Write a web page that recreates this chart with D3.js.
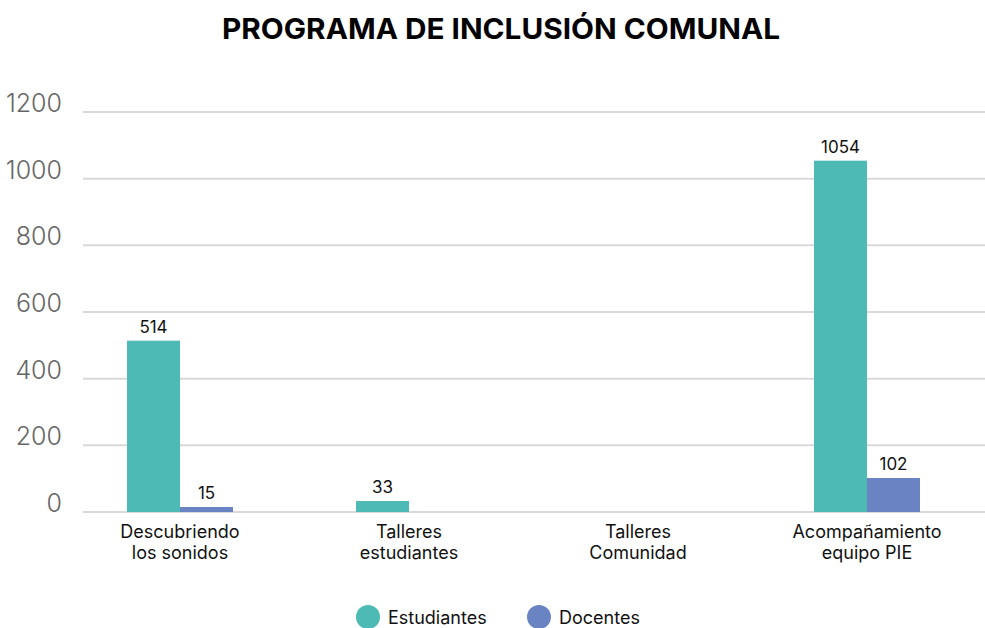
<!DOCTYPE html>
<html><head><meta charset="utf-8">
<script src="https://cdn.jsdelivr.net/npm/d3@7"></script>
<style>
body{margin:0;background:#fff;}
text{font-family:Inter,"Open Sans",sans-serif;}
</style></head>
<body><svg id="chart" width="985" height="628"></svg>
<script>
const categories = [["Descubriendo","los sonidos"],["Talleres","estudiantes"],["Talleres","Comunidad"],["Acompañamiento","equipo PIE"]];
const seriesNames = ["Estudiantes","Docentes"];
const estudiantes = [514, 33, null, 1054];
const docentes = [15, null, null, 102];
const yTicks = [0,200,400,600,800,1000,1200];
const colors = ["#4DBAB6","#6A83C3"];
const title = "PROGRAMA DE INCLUSIÓN COMUNAL";

const svg = d3.select("#chart");
const values = [estudiantes, docentes];
const x = d3.scaleBand().domain(d3.range(categories.length)).range([65.5, 981.5]);
const xs = d3.scaleBand().domain(seriesNames).range([-53, 53]);
const y = d3.scaleLinear().domain([0,1200]).range([512,112]);

svg.append("text").attr("x",501).attr("y",39).attr("text-anchor","middle")
  .attr("font-size",29).attr("font-weight",700).attr("fill","#000")
  .attr("textLength",558).attr("lengthAdjust","spacingAndGlyphs").text(title);

// grid
const g = svg.append("g");
g.selectAll("line.grid").data(yTicks).join("line")
  .attr("x1",83).attr("x2",985).attr("y1",d=>y(d)).attr("y2",d=>y(d))
  .attr("stroke","#d9d9d9").attr("stroke-width",2);
g.selectAll("text.yt").data(yTicks).join("text")
  .attr("x",62).attr("y",d=>y(d)).attr("text-anchor","end")
  .attr("font-size",25).attr("font-weight",300).attr("fill","#666").text(d=>d);

// bars
seriesNames.forEach((s,si)=>{
  const data = values[si].map((v,i)=>({i,v})).filter(d=>d.v!=null);
  svg.append("g").selectAll("rect").data(data).join("rect")
    .attr("x",d=>x(d.i)+x.bandwidth()/2+xs(s)).attr("width",xs.bandwidth())
    .attr("y",d=>y(d.v)).attr("height",d=>y(0)-y(d.v)).attr("fill",colors[si]);
  svg.append("g").selectAll("text").data(data).join("text")
    .attr("x",d=>x(d.i)+x.bandwidth()/2+xs(s)+xs.bandwidth()/2)
    .attr("y",d=>y(d.v)-8).attr("text-anchor","middle")
    .attr("font-size",17).attr("fill","#111").text(d=>d.v);
});

// category labels
const cl = svg.append("g").selectAll("text").data(categories).join("text")
  .attr("text-anchor","middle").attr("font-size",18).attr("fill","#111");
cl.each(function(c,i){
  const t=d3.select(this);
  c.forEach((line,li)=>t.append("tspan").attr("x",x(i)+x.bandwidth()/2).attr("y",538+li*21).text(line));
});

// legend
const lx=[368,539];
seriesNames.forEach((s,si)=>{
  svg.append("circle").attr("cx",lx[si]).attr("cy",617).attr("r",12).attr("fill",colors[si]);
  svg.append("text").attr("x",lx[si]+20).attr("y",624).attr("font-size",18).attr("fill","#111").text(s);
});
</script></body></html>
